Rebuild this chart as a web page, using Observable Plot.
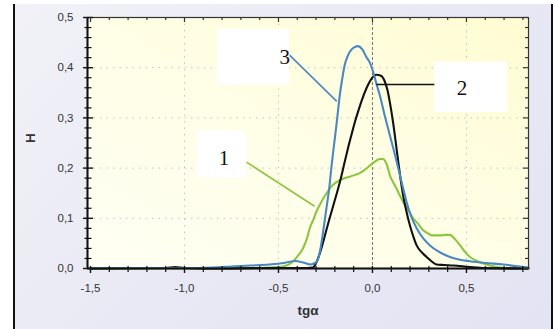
<!DOCTYPE html>
<html>
<head>
<meta charset="utf-8">
<script src="https://cdn.jsdelivr.net/npm/d3@7"></script>
<script src="https://cdn.jsdelivr.net/npm/@observablehq/plot@0.6"></script>
<style>
  html, body { margin: 0; padding: 0; background: #ffffff; }
  #wrap { position: relative; width: 555px; height: 329px; overflow: hidden; }
  #panel { position: absolute; left: 13px; top: 4px; width: 536px; height: 330px;
    border-left: 2px solid #111; border-right: 2px solid #111;
    background: linear-gradient(135deg, #f1f1f7 0%, #e9e9f5 50%, #e3e3f3 100%); }
  #chart { position: absolute; left: 0; top: 0; }
</style>
</head>
<body>
<div id="wrap"><div id="panel"></div><div id="chart"></div></div>
<script>
// ---- data ----
const curve1_tg = [-1.5, -0.8, -0.6, -0.547, -0.477, -0.423, -0.395, -0.37, -0.35, -0.334, -0.315, -0.299, -0.28, -0.263, -0.24, -0.219, -0.195, -0.174, -0.15, -0.121, -0.095, -0.068, -0.04, -0.014, 0.01, 0.039, 0.055, 0.066, 0.08, 0.092, 0.11, 0.128, 0.145, 0.163, 0.19, 0.217, 0.245, 0.27, 0.295, 0.315, 0.34, 0.359, 0.39, 0.412, 0.44, 0.466, 0.49, 0.519, 0.55, 0.59, 0.625, 0.661, 0.7, 0.83];
const curve1_H  = [0, 0, 0.001, 0.002, 0.004, 0.014, 0.026, 0.04, 0.058, 0.08, 0.097, 0.113, 0.127, 0.139, 0.152, 0.163, 0.171, 0.176, 0.18, 0.183, 0.186, 0.19, 0.197, 0.205, 0.212, 0.218, 0.218, 0.215, 0.203, 0.186, 0.172, 0.159, 0.146, 0.133, 0.116, 0.1, 0.088, 0.076, 0.07, 0.066, 0.066, 0.066, 0.067, 0.067, 0.058, 0.046, 0.034, 0.023, 0.016, 0.01, 0.006, 0.003, 0.001, 0];

const curve2_tg = [-1.5, -1.1, -1.05, -1.0, -0.8, -0.6, -0.45, -0.35, -0.317, -0.295, -0.272, -0.25, -0.228, -0.205, -0.183, -0.165, -0.148, -0.13, -0.112, -0.095, -0.077, -0.055, -0.032, -0.015, 0.003, 0.021, 0.045, 0.066, 0.08, 0.092, 0.11, 0.128, 0.145, 0.163, 0.181, 0.199, 0.217, 0.235, 0.26, 0.288, 0.315, 0.341, 0.38, 0.43, 0.519, 0.6, 0.83];
const curve2_H  = [0, 0.001, 0.003, 0.001, 0, 0.001, 0.001, 0.001, 0.002, 0.015, 0.04, 0.07, 0.1, 0.13, 0.159, 0.185, 0.212, 0.24, 0.266, 0.29, 0.312, 0.337, 0.359, 0.372, 0.382, 0.386, 0.384, 0.372, 0.355, 0.332, 0.29, 0.239, 0.19, 0.146, 0.113, 0.086, 0.064, 0.046, 0.033, 0.023, 0.014, 0.008, 0.007, 0.006, 0.003, 0.001, 0];

const curve3_tg = [-1.5, -1.2, -1.0, -0.85, -0.75, -0.65, -0.55, -0.47, -0.41, -0.37, -0.33, -0.30, -0.28, -0.26, -0.245, -0.23, -0.219, -0.205, -0.192, -0.174, -0.16, -0.148, -0.13, -0.112, -0.095, -0.077, -0.055, -0.032, -0.014, 0.005, 0.021, 0.039, 0.065, 0.092, 0.12, 0.146, 0.163, 0.181, 0.205, 0.235, 0.27, 0.306, 0.35, 0.412, 0.46, 0.519, 0.6, 0.697, 0.76, 0.83];
const curve3_H  = [0.001, 0.001, 0.001, 0.002, 0.004, 0.006, 0.008, 0.011, 0.015, 0.012, 0.008, 0.012, 0.033, 0.08, 0.12, 0.16, 0.2, 0.245, 0.285, 0.345, 0.38, 0.405, 0.425, 0.436, 0.441, 0.443, 0.437, 0.421, 0.41, 0.39, 0.368, 0.345, 0.305, 0.266, 0.226, 0.186, 0.16, 0.133, 0.105, 0.08, 0.06, 0.046, 0.034, 0.023, 0.018, 0.0145, 0.011, 0.008, 0.005, 0.002];

const seriesNames = ["1", "2", "3"];
const seriesColors = ["#8cc63f", "#111111", "#4a88c2"];

const xTicks = [-1.5, -1.0, -0.5, 0, 0.5];
const yTicks = [0, 0.1, 0.2, 0.3, 0.4, 0.5];
const xLabel = "tgα";
const yLabel = "H";

// annotation callouts (data coordinates)
const labelText = ["1", "2", "3"];
const labelX = [-0.79, 0.476, -0.467];
const labelY = [0.22, 0.359, 0.421];
const boxX1 = [-0.931, 0.332, -0.825];
const boxX2 = [-0.67, 0.716, -0.441];
const boxY1 = [0.18, 0.311, 0.365];
const boxY2 = [0.2735, 0.411, 0.477];
const leadX1 = [-0.67, 0.021, -0.441];
const leadY1 = [0.212, 0.3665, 0.425];
const leadX2 = [-0.308, 0.332, -0.19];
const leadY2 = [0.124, 0.3665, 0.333];

// ---- build tables ----
const rows = [];
[[curve1_tg, curve1_H], [curve2_tg, curve2_H], [curve3_tg, curve3_H]].forEach(([xs, hs], k) => {
  xs.forEach((x, i) => rows.push({series: seriesNames[k], tg: x, H: hs[i]}));
});
const boxes = labelText.map((t, i) => ({
  t, x: labelX[i], y: labelY[i], x1: boxX1[i], x2: boxX2[i], y1: boxY1[i], y2: boxY2[i],
  lx1: leadX1[i], ly1: leadY1[i], lx2: leadX2[i], ly2: leadY2[i], color: seriesColors[i]
}));

const W = 555, H = 329, mL = 87, mR = 27, mT = 17, mB = 61;
const pw = W - mL - mR, ph = H - mT - mB;
const xMin = -1.516, xMax = 0.83;
const fmt = d => d3.format(".1f")(d).replace(".", ",").replace("\u2212", "-");
const near = (a, b) => Math.abs(a - b) < 1e-9;
const xAll = d3.range(-15, 9).map(i => i / 10);
const yAll = d3.range(0, 26).map(i => i / 50);
const xMinor = xAll.filter(v => !xTicks.some(t => near(t, v)));
const yMinor = yAll.filter(v => !yTicks.some(t => near(t, v)));

const chart = Plot.plot({
  width: W, height: H,
  marginLeft: mL, marginRight: mR, marginTop: mT, marginBottom: mB,
  style: {background: "transparent", fontFamily: "'Liberation Sans', Arial, sans-serif", fontSize: "11.5px", color: "#333"},
  x: {domain: [xMin, xMax], label: null},
  y: {domain: [0, 0.5], label: null},
  color: {domain: seriesNames, range: seriesColors},
  marks: [
    Plot.frame({fill: "url(#plotBg)", stroke: "none"}),
    Plot.ruleX([-1, -0.5, 0.5], {x: d => d, stroke: "#c4c4c4", strokeDasharray: "1.5,5"}),
    Plot.ruleY([0.1, 0.2, 0.3, 0.4], {y: d => d, stroke: "#c4c4c4", strokeDasharray: "1.5,5"}),
    Plot.ruleX([0], {x: d => d, stroke: "#777", strokeDasharray: "3,2"}),
    Plot.line(rows, {x: "tg", y: "H", z: "series", stroke: "series", strokeWidth: 2.1, curve: "monotone-x"}),
    Plot.link(boxes, {x1: "lx1", y1: "ly1", x2: "lx2", y2: "ly2", stroke: "color", strokeWidth: 1.6}),
    Plot.rect(boxes, {x1: "x1", x2: "x2", y1: "y1", y2: "y2", fill: "white"}),
    Plot.text(boxes, {x: "x", y: "y", text: "t", fontFamily: "'Liberation Serif', 'Times New Roman', serif", fontSize: 21, fill: "#111"}),
    Plot.frame({stroke: "#333", strokeWidth: 1.2}),
    Plot.ruleY([0], {y: d => d, stroke: "#111", strokeWidth: 2}),
    Plot.ruleX([xMin], {x: d => d, stroke: "#111", strokeWidth: 2}),
    // left ticks (cross the axis)
    Plot.tickY(yTicks, {y: d => d, insetRight: pw - 10, dx: -4, stroke: "#111", strokeWidth: 1.4}),
    Plot.tickY(yMinor, {y: d => d, insetRight: pw - 7, dx: -2.5, stroke: "#111", strokeWidth: 1.2}),
    // right ticks (inside)
    Plot.tickY(yTicks, {y: d => d, insetLeft: pw - 5, stroke: "#333", strokeWidth: 1.2}),
    Plot.tickY(yMinor, {y: d => d, insetLeft: pw - 3, stroke: "#333", strokeWidth: 1.2}),
    // top ticks (inside)
    Plot.tickX(xTicks, {x: d => d, insetBottom: ph - 5, stroke: "#333", strokeWidth: 1.2}),
    Plot.tickX(xMinor, {x: d => d, insetBottom: ph - 3, stroke: "#333", strokeWidth: 1.2}),
    // bottom ticks
    Plot.tickX(xTicks, {x: d => d, insetTop: ph - 7, dy: 5, stroke: "#111", strokeWidth: 1.4}),
    Plot.tickX(xMinor, {x: d => d, insetTop: ph - 6, dy: 4, stroke: "#111", strokeWidth: 1.2}),
    Plot.axisX(xTicks, {tickSize: 0, tickPadding: 15, tickFormat: fmt, label: null, fill: "#333"}),
    Plot.axisY(yTicks, {tickSize: 0, tickPadding: 14, tickFormat: fmt, label: null, fill: "#333"}),
    Plot.text([xLabel], {frameAnchor: "bottom", dy: 46, text: d => d, fontWeight: "bold", fontSize: 13.5, fill: "#333"}),
    Plot.text([yLabel], {frameAnchor: "left", dx: -57, rotate: -90, text: d => d, fontWeight: "bold", fontSize: 13.5, fill: "#333"})
  ]
});

// gradient for plot background
const ns = "http://www.w3.org/2000/svg";
const defs = document.createElementNS(ns, "defs");
defs.innerHTML = '<linearGradient id="plotBg" x1="0" y1="1" x2="1" y2="0">' +
  '<stop offset="0" stop-color="#fffff4"/><stop offset="0.5" stop-color="#fffee6"/><stop offset="1" stop-color="#fffcd2"/></linearGradient>';
chart.insertBefore(defs, chart.firstChild);
document.getElementById("chart").appendChild(chart);
</script>
</body>
</html>
